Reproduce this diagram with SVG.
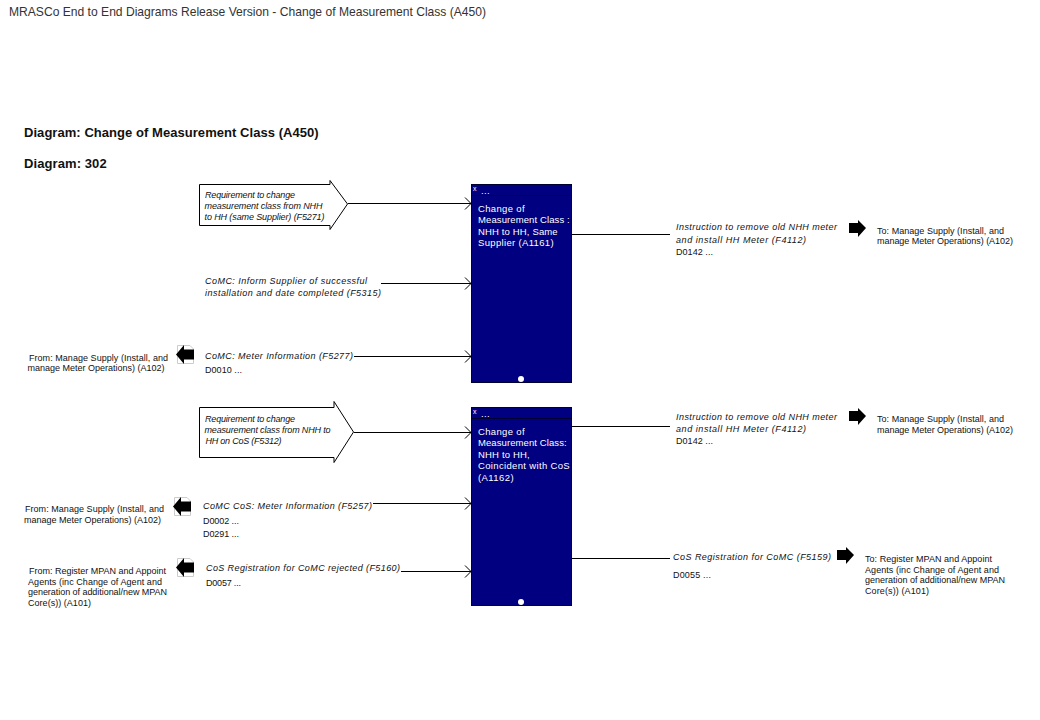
<svg xmlns="http://www.w3.org/2000/svg" width="1040" height="720" viewBox="0 0 1040 720">
<style>
text{font-family:"Liberation Sans",Arial,sans-serif;font-size:9px;fill:#111}
.t{font-size:12.100px;fill:#333}
.h{font-size:13px;font-weight:bold;letter-spacing:.35px}
.i{font-style:italic}
.w{fill:#fff;font-size:9.500px;letter-spacing:.35px}
.box{fill:#000080;stroke:#000033;stroke-width:1}
.c{fill:none;stroke:#000;stroke-width:1}
.s{fill:#fff;stroke:#000;stroke-width:1}
</style>
<defs>
<marker id="a" markerWidth="8" markerHeight="13" refX="7" refY="6.500" orient="auto" markerUnits="userSpaceOnUse"><path d="M1 .5L7 6.500L1 12.500" fill="none" stroke="#000"/></marker>
<g id="la"><path d="M1.500 .5H14L17.500 4V18.500H1.500Z" fill="#fff" stroke="#ccc" stroke-width="1"/><path d="M0 9.500L8 0V4.500H18V14.500H8V19Z" fill="#000"/></g>
<path id="ra" d="M0 3H9V0L17 8L9 17V13H0Z" fill="#000"/>
</defs>
<text class="t" x="9" y="16" textLength="477">MRASCo End to End Diagrams Release Version - Change of Measurement Class (A450)</text>
<text class="h" x="24" y="137" textLength="295">Diagram: Change of Measurement Class (A450)</text>
<text class="h" x="24" y="168" textLength="83">Diagram: 302</text>
<g id="connectors">
<path class="c" d="M348 203.500H471" marker-end="url(#a)"/>
<path class="c" d="M381 283.500H471" marker-end="url(#a)"/>
<path class="c" d="M354 356.500H471" marker-end="url(#a)"/>
<path class="c" d="M572 234.500H670"/>
<path class="c" d="M354 432.500H471" marker-end="url(#a)"/>
<path class="c" d="M373 503.500H471" marker-end="url(#a)"/>
<path class="c" d="M401 571.500H471" marker-end="url(#a)"/>
<path class="c" d="M572 426.500H670"/>
<path class="c" d="M572 558.500H670"/>
</g>
<g id="n-f5271"><path class="s" d="M199.500 184.500H330V180.500L347.500 204L330 229.500V225.500H199.500Z"/>
<text class="i" x="205" y="198" textLength="90">Requirement to change</text><text class="i" x="204.500" y="209" textLength="118">measurement class from NHH</text><text class="i" x="204.500" y="220" textLength="120">to HH (same Supplier) (F5271)</text></g>
<g id="n-f5315"><text class="i" x="205" y="284" textLength="162">CoMC: Inform Supplier of successful</text><text class="i" x="205" y="296" textLength="176">installation and date completed (F5315)</text></g>
<g id="n-f5277"><text class="i" x="205" y="359" textLength="148">CoMC: Meter Information (F5277)</text><text x="205" y="373" textLength="37">D0010 ...</text></g>
<g id="n-from1"><use href="#la" x="176" y="345"/><text x="29" y="361" textLength="139">From: Manage Supply (Install, and</text><text x="27.500" y="371" textLength="137">manage Meter Operations) (A102)</text></g>
<g id="n-a1161"><rect class="box" x="471.500" y="184.500" width="100" height="198"/><path d="M472 195.500H571" stroke="#000033"/><circle cx="521" cy="379" r="3" fill="#fff"/>
<text class="w" x="473" y="191" style="font-size:7px">x</text><text class="w" x="481" y="194">...</text>
<text class="w" x="478" y="212" textLength="47">Change of</text><text class="w" x="478" y="223" textLength="92">Measurement Class :</text><text class="w" x="478" y="235" textLength="80">NHH to HH, Same</text><text class="w" x="478" y="246" textLength="76">Supplier (A1161)</text></g>
<g id="n-f4112a"><text class="i" x="676" y="230" textLength="161">Instruction to remove old NHH meter</text><text class="i" x="676" y="243" textLength="130">and install HH Meter (F4112)</text><text x="676" y="255" textLength="37">D0142 ...</text></g>
<g id="n-to1"><use href="#ra" x="849" y="220"/><text x="877" y="234" textLength="127">To: Manage Supply (Install, and</text><text x="877" y="244" textLength="136">manage Meter Operations) (A102)</text></g>
<g id="n-f5312"><path class="s" d="M199.500 407.500H334V401.500L353.500 432L334 462.500V457.500H199.500Z"/>
<text class="i" x="205" y="422" textLength="90">Requirement to change</text><text class="i" x="204.500" y="433" textLength="126">measurement class from NHH to</text><text class="i" x="205.500" y="444" textLength="76">HH on CoS (F5312)</text></g>
<g id="n-f5257"><text class="i" x="203" y="509" textLength="169">CoMC CoS: Meter Information (F5257)</text><text x="203" y="524" textLength="36">D0002 ...</text><text x="203" y="537" textLength="36">D0291 ...</text></g>
<g id="n-from2"><use href="#la" x="173" y="497"/><text x="25" y="512" textLength="139">From: Manage Supply (Install, and</text><text x="24" y="523" textLength="137">manage Meter Operations) (A102)</text></g>
<g id="n-f5160"><text class="i" x="206" y="571" textLength="194">CoS Registration for CoMC rejected (F5160)</text><text x="206" y="586" textLength="35">D0057 ...</text></g>
<g id="n-from3"><use href="#la" x="176" y="558"/><text x="29" y="574" textLength="137">From: Register MPAN and Appoint</text><text x="28" y="585" textLength="134">Agents (inc Change of Agent and</text><text x="28" y="595" textLength="139">generation of additional/new MPAN</text><text x="28" y="606" textLength="63">Core(s)) (A101)</text></g>
<g id="n-a1162"><rect class="box" x="471.500" y="407.500" width="100" height="198"/><path d="M472 418.500H571" stroke="#000033"/><circle cx="521" cy="602" r="3" fill="#fff"/>
<text class="w" x="473" y="414" style="font-size:7px">x</text><text class="w" x="481" y="417">...</text>
<text class="w" x="478" y="435" textLength="47">Change of</text><text class="w" x="478" y="446" textLength="89">Measurement Class:</text><text class="w" x="478" y="458" textLength="52">NHH to HH,</text><text class="w" x="478" y="469" textLength="92">Coincident with CoS</text><text class="w" x="478" y="481" textLength="36">(A1162)</text></g>
<g id="n-f4112b"><text class="i" x="676" y="420" textLength="161">Instruction to remove old NHH meter</text><text class="i" x="676" y="432" textLength="130">and install HH Meter (F4112)</text><text x="676" y="444" textLength="37">D0142 ...</text></g>
<g id="n-to2"><use href="#ra" x="849" y="408"/><text x="877" y="422" textLength="127">To: Manage Supply (Install, and</text><text x="877" y="433" textLength="136">manage Meter Operations) (A102)</text></g>
<g id="n-f5159"><text class="i" x="673" y="560" textLength="158">CoS Registration for CoMC (F5159)</text><text x="673" y="578" textLength="38">D0055 ...</text></g>
<g id="n-to3"><use href="#ra" x="837" y="547"/><text x="865" y="562" textLength="127">To: Register MPAN and Appoint</text><text x="865" y="573" textLength="134">Agents (inc Change of Agent and</text><text x="865" y="583" textLength="140">generation of additional/new MPAN</text><text x="865" y="594" textLength="64">Core(s)) (A101)</text></g>
</svg>
